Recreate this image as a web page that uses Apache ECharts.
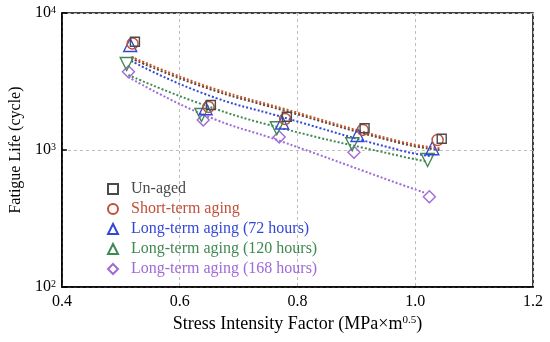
<!DOCTYPE html>
<html>
<head>
<meta charset="utf-8">
<script src="https://cdn.jsdelivr.net/npm/echarts@6/dist/echarts.min.js"></script>
<style>html,body{margin:0;padding:0;background:#fff}#c{width:550px;height:342px}</style>
</head>
<body>
<div id="c"></div>
<script>
// Measured points [stress intensity factor, fatigue life]
var unaged   = [[0.524, 6170], [0.653, 2131], [0.782, 1750], [0.914, 1440], [1.045, 1209]];
var shortAge = [[0.520, 5987], [0.649, 2061], [0.779, 1684], [0.911, 1400], [1.038, 1183]];
var long72   = [[0.516, 5842], [0.644, 2016], [0.774, 1588], [0.902, 1287], [1.029, 1029]];
var long120  = [[0.510, 4244], [0.637, 1801], [0.765, 1440], [0.893, 1101], [1.021, 845]];
var long168  = [[0.513, 3728], [0.640, 1656], [0.769, 1244], [0.896, 962], [1.024, 456]];

// Fitted trend lines
var fitUnaged   = [[0.518, 4656], [0.639, 2900], [0.774, 1959], [0.976, 1120], [1.043, 1000]];
var fitShort    = [[0.518, 4797], [0.639, 2990], [0.774, 2016], [0.976, 1150], [1.043, 1029]];
var fit72       = [[0.518, 4463], [0.639, 2600], [0.774, 1741], [0.976, 990], [1.029, 900]];
var fit120      = [[0.513, 3527], [0.639, 2150], [0.774, 1440], [0.976, 900], [1.021, 822]];
var fit168      = [[0.513, 3411], [0.639, 1820], [0.774, 1150], [0.976, 560], [1.015, 490]];

var names = ['Un-aged', 'Short-term aging', 'Long-term aging (72 hours)', 'Long-term aging (120 hours)', 'Long-term aging (168 hours)'];
var colors = ['#4a4a4a', '#c0503a', '#3448d8', '#3f8a50', '#a06ad8'];
var lineColors = ['#5a4632', '#c8562e', '#3448d8', '#3f8a50', '#a06ad8'];
var xTicks = [0.4, 0.6, 0.8, 1.0, 1.2];

var font = 'Liberation Serif, Times New Roman, serif';
var pts = [unaged, shortAge, long72, long120, long168];
var fits = [fitUnaged, fitShort, fit72, fit120, fit168];
var symbols = ['rect', 'circle', 'triangle', 'triangle', 'diamond'];
var sizes = [9, 11, 13, 13, 12];
var rots = [0, 0, 0, 180, 0];

var series = [];
fits.forEach(function (d, i) {
  series.push({
    type: 'line', data: d, smooth: 0.5, symbol: 'none', silent: true,
    lineStyle: { color: lineColors[i], width: 2, type: [2, 2] }, z: 2
  });
});
pts.forEach(function (d, i) {
  series.push({
    name: names[i], type: 'scatter', data: d, symbol: symbols[i], symbolSize: sizes[i],
    symbolRotate: rots[i],
    itemStyle: { color: 'rgba(255,255,255,0)', borderColor: colors[i], borderWidth: 1.4, opacity: 1 },
    z: 5 - i + 3
  });
});

var chart = echarts.init(document.getElementById('c'), null, { renderer: 'canvas' });
chart.setOption({
  animation: false,
  backgroundColor: '#fff',
  textStyle: { fontFamily: font },
  grid: { left: 58, right: 17, top: 13, bottom: 55, show: true, borderColor: '#000', borderWidth: 1.5, backgroundColor: 'transparent' },
  legend: {
    orient: 'vertical', left: 102, top: 176, itemWidth: 10, itemHeight: 10, itemGap: 4,
    data: names.map(function (n, i) { return { name: n, textStyle: { color: colors[i] } }; }),
    textStyle: { fontFamily: font, fontSize: 16, padding: [0, 0, 0, 8] }
  },
  xAxis: {
    type: 'value', min: 0.4, max: 1.2, interval: 0.2,
    name: 'Stress Intensity Factor (MPa×m{sup|0.5})', nameLocation: 'middle', nameGap: 27,
    nameTextStyle: { color: '#000', fontSize: 18, fontFamily: font,
      rich: { sup: { fontSize: 11, fontFamily: font, color: '#000', verticalAlign: 'top', lineHeight: 10, padding: [0, 0, 7, 0] } } },
    axisLine: { show: true, lineStyle: { color: '#000', width: 1.5 } },
    axisTick: { show: false },
    axisLabel: { color: '#000', fontSize: 16, fontFamily: font, margin: 7,
      formatter: function (v) { var t = xTicks.filter(function (k) { return Math.abs(k - v) < 1e-6; }); return t.length ? t[0].toFixed(1) : ''; } },
    splitLine: { show: true, lineStyle: { color: '#bdbdbd', type: [3, 3], width: 1 } }
  },
  yAxis: {
    type: 'log', logBase: 10, min: 100, max: 10000,
    name: 'Fatigue Life (cycle)', nameLocation: 'middle', nameGap: 28,
    nameTextStyle: { color: '#000', fontSize: 16, fontFamily: font },
    axisLine: { show: true, lineStyle: { color: '#000', width: 1.5 } },
    axisTick: { show: true, inside: true, length: 5, lineStyle: { color: '#000', width: 1.5 } },
    minorTick: { show: false },
    axisLabel: { color: '#000', fontSize: 16, fontFamily: font, margin: 6,
      formatter: function (v) { return '10{sup|' + Math.round(Math.log10(v)) + '}'; },
      rich: { sup: { fontSize: 10, fontFamily: font, color: '#000', verticalAlign: 'top', lineHeight: 10, padding: [0, 0, 6, 0] } } },
    splitLine: { show: true, lineStyle: { color: '#bdbdbd', type: [3, 3], width: 1 } }
  },
  series: series
});
</script>
</body>
</html>
